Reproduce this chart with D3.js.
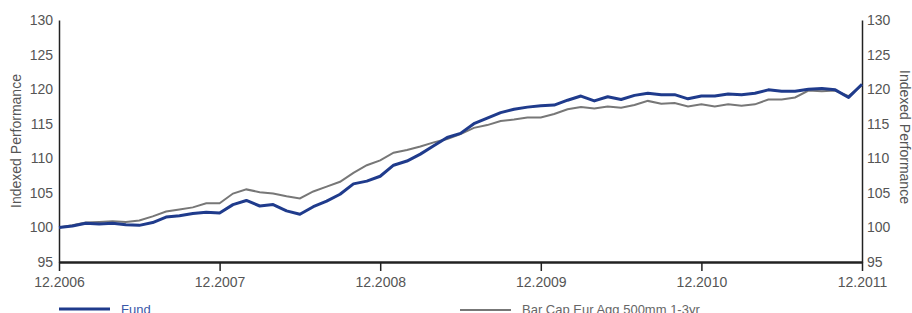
<!DOCTYPE html>
<html>
<head>
<meta charset="utf-8">
<script src="https://cdn.jsdelivr.net/npm/d3@7"></script>
<style>
  body { margin: 0; background: #fff; }
  svg { display: block; }
  .axis text { font-family: "Liberation Sans", Arial, sans-serif; font-size: 14px; fill: #555; }
</style>
</head>
<body>
<script>
var w = 912;
var h = 313;

// monthly values, Dec 2006 -> Dec 2011
var fund = [100.0, 100.2, 100.6, 100.5, 100.6, 100.4, 100.3, 100.7, 101.5, 101.7, 102.0, 102.2,
            102.1, 103.3, 103.9, 103.1, 103.3, 102.4, 101.9, 103.0, 103.8, 104.8, 106.3, 106.7,
            107.4, 109.0, 109.6, 110.6, 111.8, 113.0, 113.6, 115.0, 115.8, 116.6, 117.1, 117.4,
            117.6, 117.7, 118.4, 119.0, 118.3, 118.9, 118.5, 119.1, 119.4, 119.2, 119.2, 118.6,
            119.0, 119.0, 119.3, 119.2, 119.4, 119.9, 119.7, 119.7, 120.0, 120.1, 119.9, 118.8,
            120.7];
var bench = [100.0, 100.3, 100.7, 100.8, 100.9, 100.8, 101.0, 101.6, 102.3, 102.6, 102.9, 103.5,
             103.5, 104.9, 105.5, 105.1, 104.9, 104.5, 104.2, 105.2, 105.9, 106.6, 107.9, 109.0,
             109.7, 110.8, 111.2, 111.7, 112.3, 112.8, 113.5, 114.4, 114.8, 115.4, 115.6, 115.9,
             115.9, 116.4, 117.1, 117.4, 117.2, 117.5, 117.3, 117.7, 118.3, 117.9, 118.0, 117.5,
             117.8, 117.5, 117.8, 117.6, 117.8, 118.5, 118.5, 118.8, 119.8, 119.7, 119.8, 119.0,
             120.6];
var yearLabels = ["12.2006", "12.2007", "12.2008", "12.2009", "12.2010", "12.2011"];
var yTicks = [95, 100, 105, 110, 115, 120, 125, 130];
var seriesNames = ["Fund", "Bar Cap Eur Agg 500mm 1-3yr"];

var padLeft = 59, padRight = 862, padTop = 20, padBottom = 262;

var svg = d3.select("body").append("svg")
    .attr("width", w)
    .attr("height", h);

var xScale = d3.scaleLinear()
    .domain([0, fund.length - 1])
    .range([padLeft, padRight]);

var yScale = d3.scaleLinear()
    .domain([95, 130])
    .range([padBottom, padTop]);

var xLabel = d3.scalePoint()
    .domain(yearLabels)
    .range([padLeft, padRight]);

//axes
var yLeft = d3.axisLeft(yScale).tickValues(yTicks).tickSize(0).tickPadding(6);
var yRight = d3.axisRight(yScale).tickValues(yTicks).tickSize(0).tickPadding(5);
var xAxis = d3.axisBottom(xLabel).tickSize(9).tickSizeOuter(0).tickPadding(6);

svg.append("g").attr("class", "axis")
    .attr("transform", "translate(" + padLeft + ",0)")
    .call(yLeft)
    .select(".domain").attr("stroke", "#222").attr("stroke-width", 1.5);

svg.append("g").attr("class", "axis")
    .attr("transform", "translate(" + padRight + ",0)")
    .call(yRight)
    .select(".domain").attr("stroke", "#222").attr("stroke-width", 1.5);

var gx = svg.append("g").attr("class", "axis")
    .attr("transform", "translate(0," + padBottom + ")")
    .call(xAxis);
gx.select(".domain").attr("stroke", "#222").attr("stroke-width", 2.5);
gx.selectAll(".tick line").attr("stroke", "#222").attr("stroke-width", 1.5);

//axis titles
svg.append("text")
    .attr("transform", "translate(21,141) rotate(-90)")
    .attr("text-anchor", "middle")
    .attr("font-family", "Liberation Sans, Arial, sans-serif")
    .attr("font-size", 14)
    .attr("fill", "#555")
    .text("Indexed Performance");

svg.append("text")
    .attr("transform", "translate(900,137) rotate(90)")
    .attr("text-anchor", "middle")
    .attr("font-family", "Liberation Sans, Arial, sans-serif")
    .attr("font-size", 14)
    .attr("fill", "#555")
    .text("Indexed Performance");

//lines
var line = d3.line()
    .x(function(d, i) { return xScale(i); })
    .y(function(d) { return yScale(d); });

svg.append("path")
    .datum(bench)
    .attr("d", line)
    .attr("fill", "none")
    .attr("stroke", "#777")
    .attr("stroke-width", 2);

svg.append("path")
    .datum(fund)
    .attr("d", line)
    .attr("fill", "none")
    .attr("stroke", "#1f3b8c")
    .attr("stroke-width", 3)
    .attr("stroke-linejoin", "round");

//legend
svg.append("line")
    .attr("x1", 59).attr("x2", 110)
    .attr("y1", 309).attr("y2", 309)
    .attr("stroke", "#1f3b8c").attr("stroke-width", 3);
svg.append("text")
    .attr("x", 121).attr("y", 314)
    .attr("font-family", "Liberation Sans, Arial, sans-serif")
    .attr("font-size", 13)
    .attr("fill", "#3a58a8")
    .text(seriesNames[0]);

svg.append("line")
    .attr("x1", 460).attr("x2", 511)
    .attr("y1", 310).attr("y2", 310)
    .attr("stroke", "#777").attr("stroke-width", 2);
svg.append("text")
    .attr("x", 522).attr("y", 314)
    .attr("font-family", "Liberation Sans, Arial, sans-serif")
    .attr("font-size", 13)
    .attr("fill", "#666")
    .text(seriesNames[1]);
</script>
</body>
</html>
